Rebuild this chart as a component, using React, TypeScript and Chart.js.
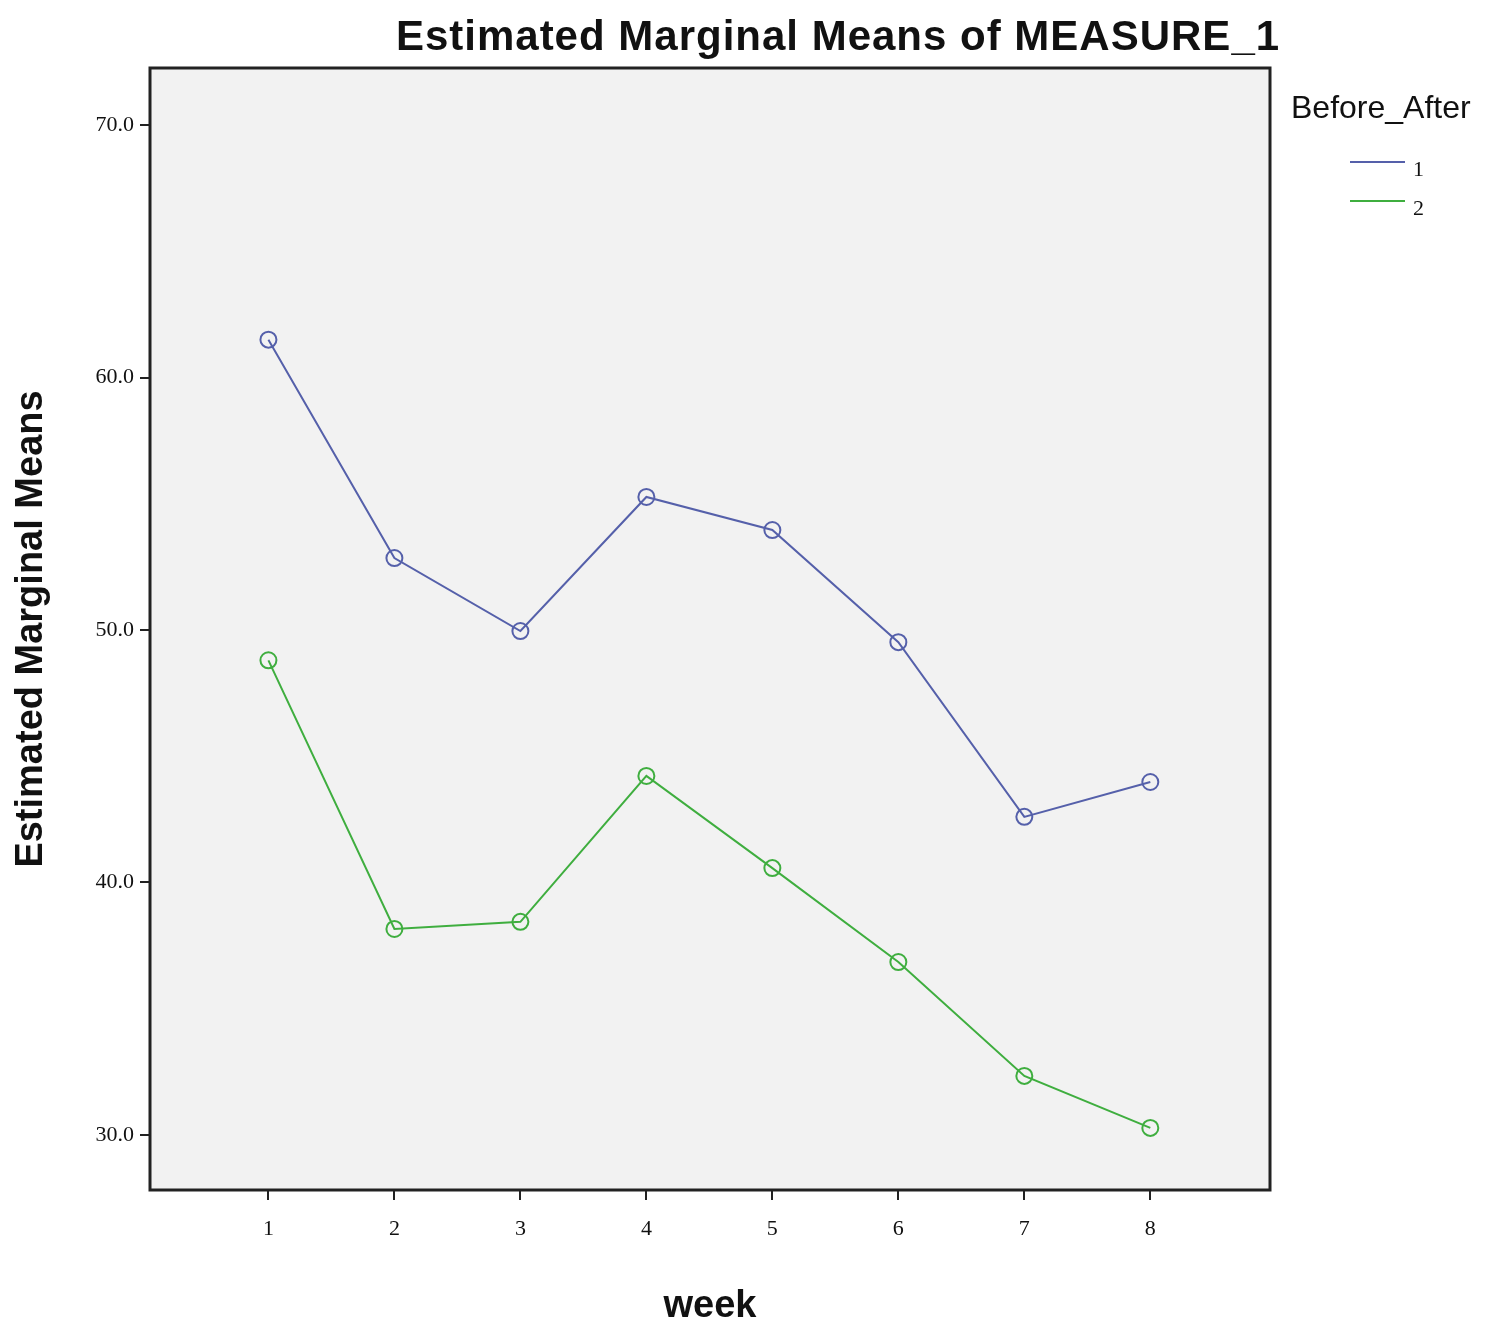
import React, { useEffect, useRef } from "react";
import { Chart, registerables } from "chart.js";
Chart.register(...registerables);

const weeks = [1, 2, 3, 4, 5, 6, 7, 8];
const series1 = [61.5, 52.85, 49.96, 55.27, 53.96, 49.52, 42.6, 43.98];
const series2 = [48.8, 38.16, 38.44, 44.22, 40.57, 36.85, 32.34, 30.28];
const yTicks = [30, 40, 50, 60, 70];
const blue = "#5560aa";
const green = "#3fae3f";

const deco = {
  id: "deco",
  beforeDraw(c: any) {
    const { ctx, chartArea: a } = c;
    ctx.save();
    ctx.fillStyle = "#f2f2f2";
    ctx.fillRect(a.left, a.top, a.right - a.left, a.bottom - a.top);
    ctx.restore();
  },
  afterDraw(c: any) {
    const { ctx, chartArea: a } = c;
    ctx.save();
    ctx.strokeStyle = "#222";
    ctx.lineWidth = 3;
    ctx.strokeRect(a.left, a.top, a.right - a.left, a.bottom - a.top);
    ctx.fillStyle = "#111";
    ctx.font = "bold 42px Arial, 'Liberation Sans', sans-serif";
    ctx.textAlign = "center";
    ctx.textBaseline = "alphabetic";
    (ctx as any).letterSpacing = "1px";
    ctx.fillText("Estimated Marginal Means of MEASURE_1", 838, 50);
    (ctx as any).letterSpacing = "0px";
    ctx.font = "32px 'Liberation Sans', Arial, sans-serif";
    ctx.textAlign = "left";
    ctx.fillText("Before_After", 1291, 118);
    ctx.font = "22px 'Liberation Serif', serif";
    [["1", blue, 162], ["2", green, 201]].forEach(([t, col, y]: any) => {
      ctx.strokeStyle = col;
      ctx.lineWidth = 2;
      ctx.beginPath();
      ctx.moveTo(1350, y);
      ctx.lineTo(1405, y);
      ctx.stroke();
      ctx.fillStyle = "#111";
      ctx.fillText(t, 1413, y + 14);
    });
    ctx.restore();
  },
};

export default function App() {
  const ref = useRef<HTMLCanvasElement>(null);
  useEffect(() => {
    const mk = (d: number[], col: string) => ({
      data: weeks.map((w, i) => ({ x: w, y: d[i] })),
      borderColor: col,
      borderWidth: 2,
      pointRadius: 8,
      pointBorderWidth: 2,
      pointBackgroundColor: "rgba(0,0,0,0)",
      pointBorderColor: col,
      tension: 0,
    });
    const chart = new Chart(ref.current!, {
      type: "line",
      data: { datasets: [mk(series1, blue), mk(series2, green)] as any },
      options: {
        animation: false,
        responsive: false,
        layout: { padding: { top: 68, right: 230, left: 5, bottom: 0 } },
        plugins: { legend: { display: false }, tooltip: { enabled: false } },
        scales: {
          x: {
            type: "linear",
            min: 0.06,
            max: 8.95,
            afterBuildTicks: (s: any) => { s.ticks = weeks.map((v) => ({ value: v })); },
            afterFit: (s: any) => { s.height = 143; },
            grid: { drawOnChartArea: false, tickLength: 10, color: "#222", lineWidth: 2 },
            border: { display: false },
            ticks: { color: "#111", font: { size: 22, family: "'Liberation Serif', serif" }, padding: 16 },
            title: { display: true, text: "week", color: "#111", font: { size: 38, weight: "bold", family: "Arial, 'Liberation Sans', sans-serif" }, padding: { top: 30 } },
          },
          y: {
            min: 27.82,
            max: 72.26,
            afterBuildTicks: (s: any) => { s.ticks = yTicks.map((v) => ({ value: v })); },
            afterFit: (s: any) => { s.width = 145; },
            grid: { drawOnChartArea: false, tickLength: 10, color: "#222", lineWidth: 2 },
            border: { display: false },
            ticks: { color: "#111", font: { size: 22, family: "'Liberation Serif', serif" }, padding: 6, callback: (v: any) => Number(v).toFixed(1) },
            title: { display: true, text: "Estimated Marginal Means", color: "#111", font: { size: 38, weight: "bold", family: "Arial, 'Liberation Sans', sans-serif" }, padding: { bottom: 24 } },
          },
        },
      },
      plugins: [deco],
    });
    return () => chart.destroy();
  }, []);
  return (
    <canvas ref={ref} width={1500} height={1333} style={{ position: "absolute", left: 0, top: 0, background: "#fff" }} />
  );
}
